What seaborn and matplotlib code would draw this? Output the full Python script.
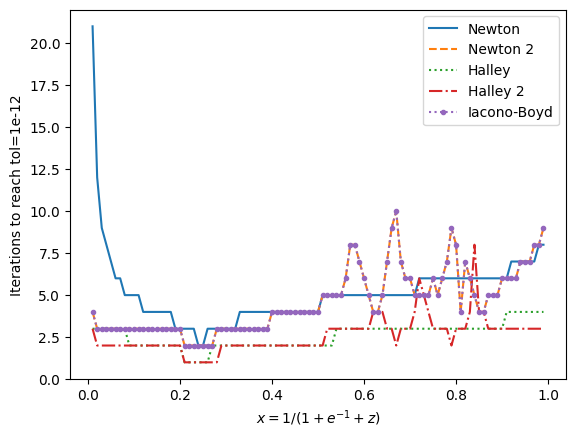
import numpy as np
import matplotlib
matplotlib.use("Agg")
import matplotlib.pyplot as plt
import seaborn as sns

# x positions (0.01 ... 0.99)
x = np.round(np.linspace(0.01, 0.99, 99), 2)

newton = [21, 12, 9, 8, 7, 6, 6, 5, 5, 5,
          5, 4, 4, 4, 4, 4, 4, 4, 3, 3,
          3, 3, 3, 2, 2, 3, 3, 3, 3, 3,
          3, 3, 4, 4, 4, 4, 4, 4, 4, 4,
          4, 4, 4, 4, 4, 4, 4, 4, 4, 4,
          5, 5, 5, 5, 5, 5, 5, 5, 5, 5,
          5, 5, 5, 5, 5, 5, 5, 5, 5, 5,
          5, 6, 6, 6, 6, 6, 6, 6, 6, 6,
          6, 6, 6, 6, 6, 6, 6, 6, 6, 6,
          6, 7, 7, 7, 7, 7, 7, 8, 8]

newton2 = [4, 3, 3, 3, 3, 3, 3, 3, 3, 3,
           3, 3, 3, 3, 3, 3, 3, 3, 3, 3,
           2, 2, 2, 2, 2, 2, 2, 3, 3, 3,
           3, 3, 3, 3, 3, 3, 3, 3, 3, 4,
           4, 4, 4, 4, 4, 4, 4, 4, 4, 4,
           5, 5, 5, 5, 5, 6, 8, 8, 7, 6,
           5, 4, 4, 5, 7, 9, 10, 7, 6, 6,
           5, 5, 5, 5, 6, 5, 6, 7, 9, 8,
           4, 7, 6, 5, 4, 4, 5, 5, 5, 6,
           6, 6, 6, 7, 7, 7, 8, 8, 9]

halley = [3, 3, 3, 3, 3, 3, 3, 3, 2, 2,
          2, 2, 2, 2, 2, 2, 2, 2, 2, 2,
          1, 1, 1, 1, 1, 1, 2, 2, 2, 2,
          2, 2, 2, 2, 2, 2, 2, 2, 2, 2,
          2, 2, 2, 2, 2, 2, 2, 2, 2, 2,
          2, 2, 2, 3, 3, 3, 3, 3, 3, 3,
          3, 3, 3, 3, 3, 3, 3, 3, 3, 3,
          3, 3, 3, 3, 3, 3, 3, 3, 3, 3,
          3, 3, 3, 3, 3, 3, 3, 3, 3, 3,
          4, 4, 4, 4, 4, 4, 4, 4, 4]

halley2 = [3, 2, 2, 2, 2, 2, 2, 2, 2, 2,
           2, 2, 2, 2, 2, 2, 2, 2, 2, 2,
           1, 1, 1, 1, 1, 1, 1, 1, 2, 2,
           2, 2, 2, 2, 2, 2, 2, 2, 2, 2,
           2, 2, 2, 2, 2, 2, 2, 2, 2, 2,
           2, 3, 3, 3, 3, 3, 3, 3, 3, 3,
           3, 4, 4, 4, 3, 3, 2, 3, 3, 3,
           4, 6, 5, 4, 3, 3, 3, 3, 2, 3,
           3, 3, 4, 8, 4, 4, 3, 3, 3, 3,
           3, 3, 3, 3, 3, 3, 3, 3, 3]

iacono_boyd = list(newton2)

fig, ax = plt.subplots(figsize=(6.4, 4.8), dpi=100)
sns.lineplot(x=x, y=newton, ax=ax, label="Newton", color="C0")
sns.lineplot(x=x, y=newton2, ax=ax, label="Newton 2", color="C1", linestyle="--")
sns.lineplot(x=x, y=halley, ax=ax, label="Halley", color="C2", linestyle=":")
sns.lineplot(x=x, y=halley2, ax=ax, label="Halley 2", color="C3", linestyle="-.")
sns.lineplot(x=x, y=iacono_boyd, ax=ax, label="Iacono-Boyd", color="C4",
             linestyle=":", marker=".", markersize=6,
             markeredgecolor="C4", markeredgewidth=1.0)

ax.set_xlabel(r"$x = 1/(1+e^{-1}+z)$")
ax.set_ylabel("Iterations to reach tol=1e-12")
ax.legend(loc="upper right")

fig.savefig("out.png", bbox_inches="tight")
